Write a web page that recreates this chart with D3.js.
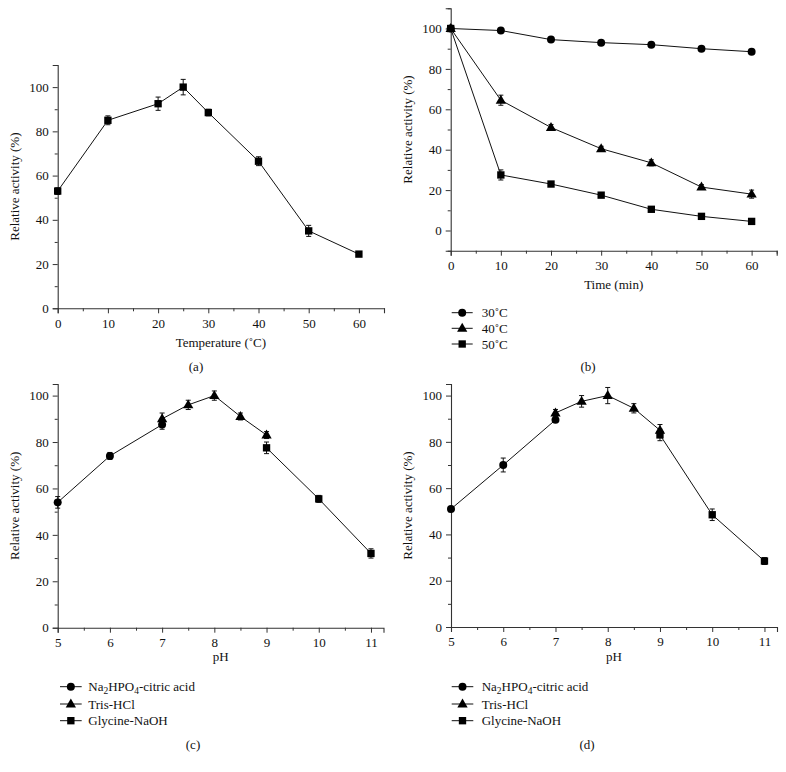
<!DOCTYPE html>
<html>
<head>
<meta charset="utf-8">
<script src="https://cdn.jsdelivr.net/npm/d3@7"></script>
<style>
  html, body { margin: 0; padding: 0; background: #fff; }
  svg text { font-family: "Liberation Serif", "DejaVu Serif", serif; fill: #111; }
</style>
</head>
<body>
<svg id="chart" width="786" height="772"></svg>
<script>
// ---------- Data ----------
// (a) temperature optimum
const tempA = [0, 10, 20, 25, 30, 40, 50, 60];
const actA = [53, 85, 92.5, 100, 88.5, 66.5, 35, 24.5];
const errA = [1.5, 2, 3, 3.5, 1.5, 2, 2.5, 1];

// (b) thermal stability
const timeB = [0, 10, 20, 30, 40, 50, 60];
const act30 = [100, 99, 94.5, 93, 92, 90, 88.5];
const err30 = [0.8, 1, 1, 0.8, 0.8, 0.8, 0.8];
const act40 = [100, 64.5, 51, 40.5, 33.5, 21.5, 18];
const err40 = [0.8, 2.5, 1.5, 1.2, 1.5, 1.2, 2];
const act50 = [100, 27.5, 23, 17.5, 10.5, 7, 4.5];
const err50 = [0.8, 2.5, 1, 0.8, 0.8, 0.8, 0.8];
const legendB = ["30\u02daC", "40\u02daC", "50\u02daC"];

// (c) pH optimum
const phCircleC = [5, 6, 7];
const actCircleC = [54, 74, 87.5];
const errCircleC = [2.5, 1.5, 2];
const phTriC = [7, 7.5, 8, 8.5, 9];
const actTriC = [90, 96, 100, 91, 83];
const errTriC = [2.5, 2, 2, 1.5, 1.5];
const phSqC = [9, 10, 11];
const actSqC = [77.5, 55.5, 32];
const errSqC = [2.5, 1.5, 2];

// (d) pH stability
const phCircleD = [5, 6, 7];
const actCircleD = [51, 70, 89.5];
const errCircleD = [1, 3, 1];
const phTriD = [7, 7.5, 8, 8.5, 9];
const actTriD = [92.5, 97.5, 100, 94.5, 85];
const errTriD = [1.5, 2.5, 3.5, 2, 2.5];
const phSqD = [9, 10, 11];
const actSqD = [83, 48.5, 28.5];
const errSqD = [2.5, 2.5, 1.5];

const bufferLegend = ["Na2HPO4-citric acid", "Tris-HCl", "Glycine-NaOH"];

// tick values
const xTicksA = [0, 10, 20, 30, 40, 50, 60];
const xMinorA = [5, 15, 25, 35, 45, 55, 65];
const yTicksA = [0, 20, 40, 60, 80, 100];
const yMinorA = [10, 30, 50, 70, 90, 110];
const yTicksB = [0, 20, 40, 60, 80, 100];
const yMinorB = [-10, 10, 30, 50, 70, 90, 110];
const xTicksPH = [5, 6, 7, 8, 9, 10, 11];
const xMinorPH = [5.5, 6.5, 7.5, 8.5, 9.5, 10.5];
const yTicksPH = [0, 20, 40, 60, 80, 100];
const yMinorPH = [10, 30, 50, 70, 90];

// ---------- Drawing ----------
const svg = d3.select("#chart");
const FS = 13;

const shapes = { circle: d3.symbolCircle, triangle: d3.symbolTriangle, square: d3.symbolSquare };
const sizes = { circle: 50, triangle: 46, square: 54 };

function zip(xs, ys, es) { return xs.map((x, i) => ({ x, y: ys[i], e: es ? es[i] : 0 })); }

function panel(cfg) {
  const g = svg.append("g");
  const x = d3.scaleLinear().domain(cfg.xDomain).range([cfg.left, cfg.right]);
  const y = d3.scaleLinear().domain(cfg.yDomain).range([cfg.bottom, cfg.top]);

  // axes
  g.append("g").attr("transform", `translate(0,${cfg.bottom})`)
    .call(d3.axisBottom(x).tickValues(cfg.xTicks).tickSize(5).tickPadding(5).tickFormat(d3.format("d")));
  g.append("g").attr("transform", `translate(0,${cfg.bottom})`)
    .call(d3.axisBottom(x).tickValues(cfg.xMinor).tickSize(3).tickFormat(""))
    .select(".domain").remove();
  g.append("g").attr("transform", `translate(${cfg.left},0)`)
    .call(d3.axisLeft(y).tickValues(cfg.yTicks).tickSize(5).tickPadding(4).tickFormat(d3.format("d")));
  g.append("g").attr("transform", `translate(${cfg.left},0)`)
    .call(d3.axisLeft(y).tickValues(cfg.yMinor).tickSize(3).tickFormat(""))
    .select(".domain").remove();
  g.selectAll(".domain").attr("stroke", "#333").attr("stroke-width", 1.1);
  g.selectAll(".tick line").attr("stroke", "#333");
  g.selectAll(".tick text").attr("font-size", FS).attr("fill", "#111");

  // axis titles
  g.append("text").attr("x", (cfg.left + cfg.right) / 2).attr("y", cfg.xTitleY)
    .attr("text-anchor", "middle").attr("font-size", FS).text(cfg.xTitle);
  g.append("text").attr("transform", `translate(${cfg.yTitleX},${(cfg.top + cfg.bottom) / 2}) rotate(-90)`)
    .attr("text-anchor", "middle").attr("font-size", FS).text("Relative activity (%)");

  // series
  const line = d3.line().x(d => x(d.x)).y(d => y(d.y));
  cfg.series.forEach(s => {
    g.append("path").datum(s.data).attr("d", line)
      .attr("fill", "none").attr("stroke", "#111").attr("stroke-width", 1);
  });
  cfg.series.forEach(s => {
    const eb = g.append("g");
    s.data.filter(d => d.e > 0).forEach(d => {
      const cx = x(d.x), y1 = y(d.y - d.e), y2 = y(d.y + d.e);
      eb.append("line").attr("x1", cx).attr("x2", cx).attr("y1", y1).attr("y2", y2).attr("stroke", "#111");
      eb.append("line").attr("x1", cx - 2.5).attr("x2", cx + 2.5).attr("y1", y1).attr("y2", y1).attr("stroke", "#111");
      eb.append("line").attr("x1", cx - 2.5).attr("x2", cx + 2.5).attr("y1", y2).attr("y2", y2).attr("stroke", "#111");
    });
  });
  cfg.series.forEach(s => {
    g.selectAll(null).data(s.data).enter().append("path")
      .attr("transform", d => `translate(${x(d.x)},${y(d.y) + (s.shape === "triangle" ? 0.5 : 0)})`)
      .attr("d", d3.symbol().type(shapes[s.shape]).size(sizes[s.shape]))
      .attr("fill", "#000");
  });

  // legend
  if (cfg.legend) {
    cfg.legend.items.forEach((it, i) => {
      const ly = cfg.legend.ys[i];
      g.append("line").attr("x1", cfg.legend.x0).attr("x2", cfg.legend.x1).attr("y1", ly).attr("y2", ly)
        .attr("stroke", "#111");
      g.append("path").attr("transform", `translate(${(cfg.legend.x0 + cfg.legend.x1) / 2},${ly + (it.shape === "triangle" ? 0.5 : 0)})`)
        .attr("d", d3.symbol().type(shapes[it.shape]).size(sizes[it.shape])).attr("fill", "#000");
      const t = g.append("text").attr("x", cfg.legend.tx).attr("y", ly + 4.5).attr("font-size", FS);
      if (it.label.startsWith("Na2HPO4")) {
        t.append("tspan").text("Na");
        t.append("tspan").attr("font-size", 9.5).attr("dy", 2.5).text("2");
        t.append("tspan").attr("dy", -2.5).text("HPO");
        t.append("tspan").attr("font-size", 9.5).attr("dy", 2.5).text("4");
        t.append("tspan").attr("dy", -2.5).text("-citric acid");
      } else {
        t.text(it.label);
      }
    });
  }
  // panel letter
  svg.append("text").attr("x", cfg.letterX).attr("y", cfg.letterY).attr("text-anchor", "middle")
    .attr("font-size", FS).text(cfg.letter);
}

const shapesOrder = ["circle", "triangle", "square"];

panel({
  left: 57.7, right: 384, top: 65, bottom: 308.3,
  xDomain: [0, 65], yDomain: [0, 110],
  xTicks: xTicksA, xMinor: xMinorA, yTicks: yTicksA, yMinor: yMinorA,
  xTitle: "Temperature (\u02daC)", xTitleY: 347, yTitleX: 19,
  series: [{ shape: "square", data: zip(tempA, actA, errA) }],
  letter: "(a)", letterX: 196, letterY: 371
});

panel({
  left: 450.7, right: 776.7, top: 8.3, bottom: 250.7,
  xDomain: [0, 65], yDomain: [-10, 110],
  xTicks: xTicksA, xMinor: xMinorA, yTicks: yTicksB, yMinor: yMinorB,
  xTitle: "Time (min)", xTitleY: 289, yTitleX: 412,
  series: [
    { shape: "circle", data: zip(timeB, act30, err30) },
    { shape: "triangle", data: zip(timeB, act40, err40) },
    { shape: "square", data: zip(timeB, act50, err50) }
  ],
  legend: { x0: 451.7, x1: 472.7, tx: 481.7, ys: [312.7, 328.3, 344],
    items: legendB.map((l, i) => ({ label: l, shape: shapesOrder[i] })) },
  letter: "(b)", letterX: 588, letterY: 371
});

panel({
  left: 57.7, right: 383.5, top: 384, bottom: 627.7,
  xDomain: [5, 11.24], yDomain: [0, 105],
  xTicks: xTicksPH, xMinor: xMinorPH, yTicks: yTicksPH, yMinor: yMinorPH,
  xTitle: "pH", xTitleY: 661, yTitleX: 19,
  series: [
    { shape: "circle", data: zip(phCircleC, actCircleC, errCircleC) },
    { shape: "triangle", data: zip(phTriC, actTriC, errTriC) },
    { shape: "square", data: zip(phSqC, actSqC, errSqC) }
  ],
  legend: { x0: 60, x1: 81.7, tx: 88.3, ys: [686.7, 704, 720.7],
    items: bufferLegend.map((l, i) => ({ label: l, shape: shapesOrder[i] })) },
  letter: "(c)", letterX: 193, letterY: 749
});

panel({
  left: 451, right: 777, top: 384, bottom: 627,
  xDomain: [5, 11.24], yDomain: [0, 105],
  xTicks: xTicksPH, xMinor: xMinorPH, yTicks: yTicksPH, yMinor: yMinorPH,
  xTitle: "pH", xTitleY: 661, yTitleX: 412,
  series: [
    { shape: "circle", data: zip(phCircleD, actCircleD, errCircleD) },
    { shape: "triangle", data: zip(phTriD, actTriD, errTriD) },
    { shape: "square", data: zip(phSqD, actSqD, errSqD) }
  ],
  legend: { x0: 451.7, x1: 473.3, tx: 481.7, ys: [686.7, 704, 720.7],
    items: bufferLegend.map((l, i) => ({ label: l, shape: shapesOrder[i] })) },
  letter: "(d)", letterX: 587, letterY: 749
});
</script>
</body>
</html>
